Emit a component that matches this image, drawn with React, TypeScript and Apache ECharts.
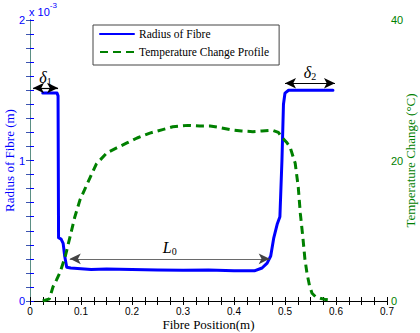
import React, { useEffect, useRef } from 'react';
import * as echarts from 'echarts';

// Radius of fibre, x in m, y in units of 1e-3 m
const radiusX = [0.025, 0.053, 0.055, 0.056, 0.061, 0.065, 0.068, 0.072, 0.08, 0.1, 0.12, 0.15, 0.2, 0.25, 0.3, 0.35, 0.4, 0.44, 0.455, 0.465, 0.472, 0.478, 0.485, 0.49, 0.494, 0.497, 0.5, 0.507, 0.594];
const radiusY = [1.48, 1.48, 1.46, 0.45, 0.44, 0.41, 0.32, 0.24, 0.235, 0.23, 0.225, 0.228, 0.225, 0.22, 0.218, 0.22, 0.215, 0.215, 0.235, 0.27, 0.32, 0.45, 0.55, 0.6, 1.0, 1.4, 1.48, 1.5, 1.5];

// Temperature change profile, x in m, y in °C
const tempX = [0.025, 0.038, 0.045, 0.052, 0.059, 0.069, 0.078, 0.088, 0.098, 0.108, 0.118, 0.13, 0.151, 0.17, 0.19, 0.21, 0.235, 0.26, 0.28, 0.31, 0.333, 0.353, 0.372, 0.392, 0.415, 0.437, 0.455, 0.476, 0.487, 0.494, 0.503, 0.51, 0.516, 0.52, 0.526, 0.53, 0.535, 0.539, 0.543, 0.548, 0.553, 0.56, 0.569, 0.58, 0.592];
const tempY = [0, 0.3, 2, 3, 4.1, 6.3, 9, 12, 14.4, 16, 17.6, 19.5, 21.1, 21.8, 22.5, 23.2, 23.9, 24.4, 24.8, 25, 24.9, 24.9, 24.7, 24.4, 24.2, 24.1, 24.2, 24.3, 24, 23.3, 22.6, 21.9, 20.5, 19.6, 16.2, 12.5, 9.1, 6, 4, 2.2, 1.1, 0.6, 0.4, 0.2, 0.1];

const seriesNames = ['Radius of Fibre', 'Temperature Change Profile'];

// Annotation arrows: [xStart, xEnd, y (1e-3 m)]
const delta1 = [0.006, 0.055, 1.516];
const delta2 = [0.5, 0.598, 1.55];
const lengthL0 = [0.078, 0.47, 0.3];

const xRange = [0, 0.7, 0.1];
const yLeftRange = [0, 2, 1];
const yRightRange = [0, 40, 20];

const serif = '"Liberation Serif", "DejaVu Serif", "Times New Roman", serif';
const sans = '"Liberation Sans", Arial, Helvetica, sans-serif';

const BLUE = '#0000ff';
const GREEN = '#008000';

export default function App() {
  const ref = useRef<HTMLDivElement>(null);
  useEffect(() => {
    const chart = echarts.init(ref.current!, null, { renderer: 'svg' });
    const zip = (a: number[], b: number[]) => a.map((v, i) => [v, b[i]]);
    const annoRich = {
      d: { fontFamily: serif, fontStyle: 'italic', fontSize: 16, color: '#000', lineHeight: 18 },
      s: { fontFamily: serif, fontSize: 10, color: '#000', verticalAlign: 'bottom', lineHeight: 10, padding: [8, 0, 0, 0] },
    };
    const arrowItem = (a: number[], sym: string, sub: string, color: string, width: number) => [
      {
        coord: [a[0], a[2]],
        lineStyle: { color, width, type: 'solid' },
        label: { show: true, position: 'insideMiddleTop', distance: 2, formatter: `{d|${sym}}{s|${sub}}`, rich: annoRich },
      },
      { coord: [a[1], a[2]] },
    ];
    const xAxisBase = {
      type: 'value',
      min: xRange[0],
      max: xRange[1],
      interval: xRange[2],
      splitLine: { show: false },
      axisLine: { show: true, lineStyle: { color: '#000', width: 1 } },
      axisTick: { show: true, inside: true, length: 4, lineStyle: { color: '#000' } },
      minorTick: { show: true, splitNumber: 4, length: 4, lineStyle: { color: '#000' } },
    };
    chart.setOption({
      animation: false,
      backgroundColor: '#fff',
      grid: { left: 30, right: 33, top: 20, bottom: 32, containLabel: false, outerBoundsMode: 'none' },
      legend: {
        orient: 'vertical',
        left: 93,
        top: 25,
        padding: [3, 10, 7, 6],
        itemGap: 6,
        itemWidth: 34,
        itemHeight: 14,
        backgroundColor: '#fff',
        borderColor: '#444',
        borderWidth: 1,
        selectedMode: false,
        itemStyle: { opacity: 0 },
        textStyle: { fontFamily: serif, fontSize: 11.5, color: '#000' },
        data: seriesNames,
      },
      graphic: [
        {
          type: 'text',
          left: 29,
          top: 1,
          style: {
            text: '{a|x 10}{b|-3}',
            rich: {
              a: { fontFamily: sans, fontSize: 11, fill: BLUE, padding: [5, 0, 0, 0] },
              b: { fontFamily: sans, fontSize: 8, fill: BLUE, verticalAlign: 'top' },
            },
          },
        },
      ],
      xAxis: [
        {
          ...xAxisBase,
          position: 'bottom',
          axisLabel: { color: '#000', fontFamily: sans, fontSize: 10, margin: 5 },
          name: 'Fibre Position(m)',
          nameLocation: 'middle',
          nameGap: 17,
          nameMoveOverlap: false,
          nameTextStyle: { fontFamily: serif, fontSize: 13, color: '#000' },
        },
        {
          ...xAxisBase,
          position: 'top',
          axisLabel: { show: false },
        },
      ],
      yAxis: [
        {
          type: 'value',
          position: 'left',
          min: yLeftRange[0],
          max: yLeftRange[1],
          interval: yLeftRange[2],
          splitLine: { show: false },
          axisLine: { show: true, lineStyle: { color: BLUE, width: 1 } },
          axisTick: { show: true, inside: true, length: 4, lineStyle: { color: BLUE } },
          minorTick: { show: true, splitNumber: 10, length: 4, lineStyle: { color: BLUE } },
          axisLabel: { color: BLUE, fontFamily: sans, fontSize: 11, margin: 5 },
          name: 'Radius of Fibre (m)',
          nameLocation: 'middle',
          nameGap: 14,
          nameMoveOverlap: false,
          nameTextStyle: { color: BLUE, fontFamily: serif, fontSize: 13 },
        },
        {
          type: 'value',
          position: 'right',
          min: yRightRange[0],
          max: yRightRange[1],
          interval: yRightRange[2],
          splitLine: { show: false },
          axisLine: { show: true, lineStyle: { color: '#5b8f84', width: 1 } },
          axisTick: { show: true, inside: true, length: 4, lineStyle: { color: '#3d55b0' } },
          minorTick: { show: true, splitNumber: 10, length: 4, lineStyle: { color: '#3d55b0' } },
          axisLabel: { color: GREEN, fontFamily: sans, fontSize: 11, margin: 4 },
          name: 'Temperature Change (°C)',
          nameLocation: 'middle',
          nameGap: 17,
          nameMoveOverlap: false,
          nameTextStyle: { color: GREEN, fontFamily: serif, fontSize: 13 },
        },
      ],
      series: [
        {
          name: seriesNames[0],
          type: 'line',
          xAxisIndex: 0,
          yAxisIndex: 0,
          data: zip(radiusX, radiusY),
          symbol: 'none',
          showSymbol: false,
          itemStyle: { color: BLUE },
          lineStyle: { color: BLUE, width: 3, cap: 'round', join: 'round' },
          markLine: {
            silent: true,
            symbol: ['arrow', 'arrow'],
            symbolSize: [8, 11],
            lineStyle: { color: '#000', width: 1, type: 'solid' },
            data: [
              arrowItem(delta1, 'δ', '1', '#000', 1.2),
              arrowItem(delta2, 'δ', '2', '#000', 1.2),
              arrowItem(lengthL0, 'L', '0', '#444', 0.8),
            ],
          },
        },
        {
          name: seriesNames[1],
          type: 'line',
          xAxisIndex: 0,
          yAxisIndex: 1,
          data: zip(tempX, tempY),
          symbol: 'none',
          showSymbol: false,
          itemStyle: { color: GREEN },
          lineStyle: { color: GREEN, width: 3, type: [8, 5] },
        },
      ],
    });
    return () => chart.dispose();
  }, []);
  return (
    <div
      ref={ref}
      style={{ position: 'fixed', left: 0, top: 0, width: 420, height: 333, background: '#fff' }}
    />
  );
}
